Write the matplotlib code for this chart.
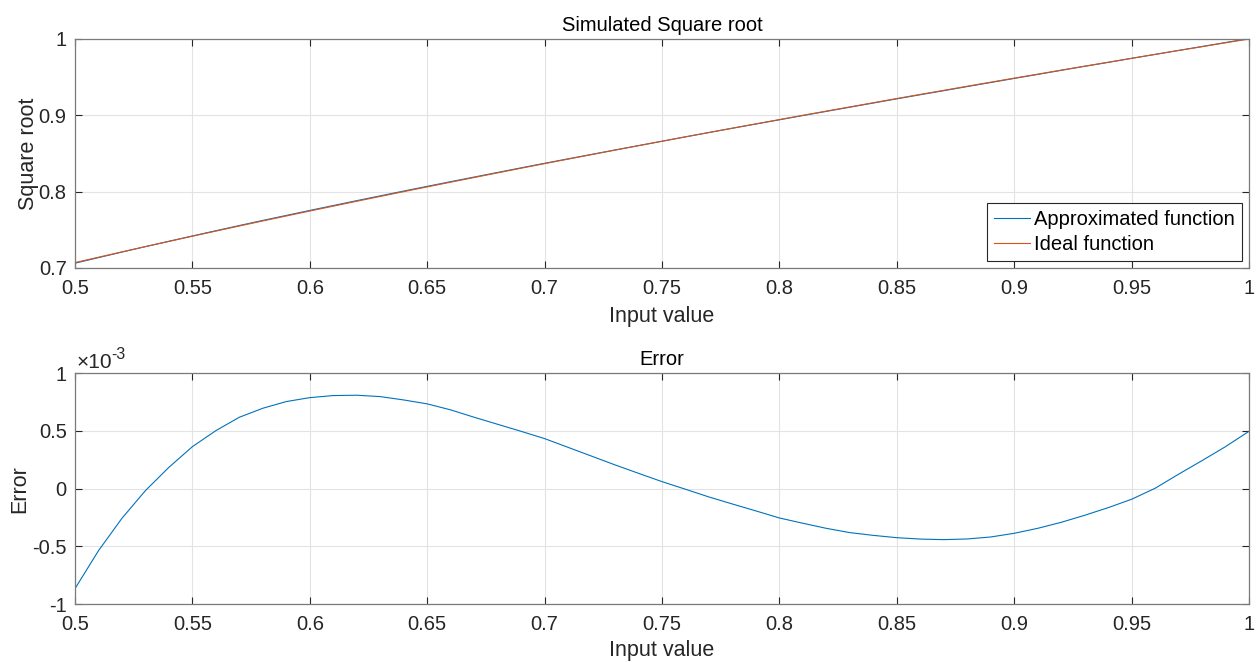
import numpy as np
import matplotlib
matplotlib.use("Agg")
from matplotlib import pyplot as plt

# input grid and values
x_in = [0.50, 0.51, 0.52, 0.53, 0.54, 0.55, 0.56, 0.57, 0.58, 0.59,
        0.60, 0.61, 0.62, 0.63, 0.64, 0.65, 0.66, 0.67, 0.68, 0.69,
        0.70, 0.71, 0.72, 0.73, 0.74, 0.75, 0.76, 0.77, 0.78, 0.79,
        0.80, 0.81, 0.82, 0.83, 0.84, 0.85, 0.86, 0.87, 0.88, 0.89,
        0.90, 0.91, 0.92, 0.93, 0.94, 0.95, 0.96, 0.97, 0.98, 0.99, 1.00]

ideal = [0.7071, 0.7141, 0.7211, 0.7280, 0.7348, 0.7416, 0.7483, 0.7550, 0.7616, 0.7681,
         0.7746, 0.7810, 0.7874, 0.7937, 0.8000, 0.8062, 0.8124, 0.8185, 0.8246, 0.8307,
         0.8367, 0.8426, 0.8485, 0.8544, 0.8602, 0.8660, 0.8718, 0.8775, 0.8832, 0.8888,
         0.8944, 0.9000, 0.9055, 0.9110, 0.9165, 0.9220, 0.9274, 0.9327, 0.9381, 0.9434,
         0.9487, 0.9539, 0.9592, 0.9644, 0.9695, 0.9747, 0.9798, 0.9849, 0.9899, 0.9950, 1.0000]

# error in units of 1e-3
err = [-0.867, -0.538, -0.257, -0.017, 0.185, 0.364, 0.503, 0.619, 0.697, 0.755,
       0.789, 0.807, 0.810, 0.798, 0.769, 0.735, 0.683, 0.619, 0.558, 0.497,
       0.434, 0.358, 0.282, 0.206, 0.133, 0.061, -0.005, -0.072, -0.133, -0.193,
       -0.254, -0.300, -0.344, -0.381, -0.405, -0.425, -0.437, -0.442, -0.436, -0.419,
       -0.387, -0.344, -0.292, -0.231, -0.165, -0.092, 0.003, 0.125, 0.243, 0.364, 0.497]

xticks = [0.5, 0.55, 0.6, 0.65, 0.7, 0.75, 0.8, 0.85, 0.9, 0.95, 1]
xticklabels = ['0.5', '0.55', '0.6', '0.65', '0.7', '0.75', '0.8', '0.85', '0.9', '0.95', '1']

x_in = np.array(x_in)
ideal = np.array(ideal)
err = np.array(err)
approx = ideal + err * 1e-3

plt.rcParams['font.family'] = ['Liberation Sans', 'DejaVu Sans']
plt.rcParams['font.size'] = 14

blue = '#0072BD'
orange = '#D95319'
axcol = '#262626'

fig = plt.figure(figsize=(12.56, 6.62), dpi=100)
ax1 = fig.add_axes([0.0597, 0.5952, 0.9347, 0.3459])
ax2 = fig.add_axes([0.0597, 0.0876, 0.9347, 0.3485])

def style(ax, xlab_y):
    ax.grid(True, color='#e3e3e3', linewidth=0.8)
    ax.set_axisbelow(True)
    ax.tick_params(direction='in', top=True, right=True, colors=axcol,
                   labelsize=14.5, length=5, width=0.8)
    ax.tick_params(axis='x', pad=8)
    ax.tick_params(axis='y', pad=6)
    for s in ax.spines.values():
        s.set_color('#7a7a7a')
        s.set_linewidth(0.9)
    ax.set_xlim(0.5, 1)
    ax.set_xticks(xticks)
    ax.set_xticklabels(xticklabels)
    ax.set_xlabel('Input value', fontsize=15.5, color=axcol)
    ax.xaxis.set_label_coords(0.5, xlab_y)

ax1.plot(x_in, approx, color=blue, lw=0.8, label='Approximated function')
ax1.plot(x_in, ideal, color=orange, lw=0.8, label='Ideal function')
style(ax1, -0.165)
ax1.set_ylim(0.7, 1)
ax1.set_yticks([0.7, 0.8, 0.9, 1])
ax1.set_yticklabels(['0.7', '0.8', '0.9', '1'])
ax1.set_ylabel('Square root', fontsize=15.5, color=axcol)
ax1.yaxis.set_label_coords(-0.031, 0.5)
ax1.set_title('Simulated Square root', fontsize=14.5, color='black', pad=6)
leg = ax1.legend(loc='lower right', fontsize=14.5, fancybox=False, framealpha=1,
                 edgecolor=axcol, borderpad=0.35, handlelength=1.8,
                 handletextpad=0.2, labelspacing=0.3, borderaxespad=0.35)
leg.get_frame().set_linewidth(0.8)

ax2.plot(x_in, err, color=blue, lw=0.8)
style(ax2, -0.158)
ax2.set_ylim(-1, 1)
ax2.set_yticks([-1, -0.5, 0, 0.5, 1])
ax2.set_yticklabels(['-1', '-0.5', '0', '0.5', '1'])
ax2.set_ylabel('Error', fontsize=15.5, color=axcol)
ax2.yaxis.set_label_coords(-0.038, 0.5)
ax2.set_title('Error', fontsize=14.5, color='black', pad=6)
# exponent label like MATLAB's "x10^-3"
ax2.annotate('\u00d710', xy=(0, 1), xycoords='axes fraction', xytext=(1, 1),
             textcoords='offset points', ha='left', va='bottom',
             fontsize=15, color=axcol)
ax2.annotate('-3', xy=(0, 1), xycoords='axes fraction', xytext=(26, 8),
             textcoords='offset points', ha='left', va='bottom',
             fontsize=11.5, color=axcol)

fig.savefig('out.png', dpi=100)
